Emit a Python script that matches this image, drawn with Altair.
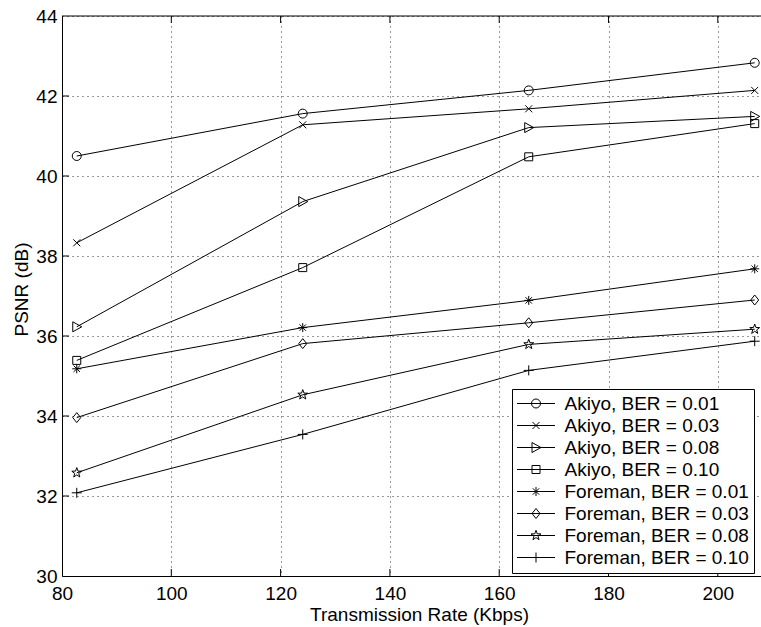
import math
import altair as alt
import pandas as pd

# ---------------- data ----------------
rates = [82.7, 124.05, 165.4, 206.75]
series_names = [
    "Akiyo, BER = 0.01",
    "Akiyo, BER = 0.03",
    "Akiyo, BER = 0.08",
    "Akiyo, BER = 0.10",
    "Foreman, BER = 0.01",
    "Foreman, BER = 0.03",
    "Foreman, BER = 0.08",
    "Foreman, BER = 0.10",
]
akiyo_001 = [40.50, 41.56, 42.14, 42.83]
akiyo_003 = [38.33, 41.28, 41.68, 42.14]
akiyo_008 = [36.23, 39.36, 41.21, 41.49]
akiyo_010 = [35.39, 37.71, 40.48, 41.31]
foreman_001 = [35.18, 36.21, 36.89, 37.68]
foreman_003 = [33.96, 35.81, 36.33, 36.90]
foreman_008 = [32.58, 34.53, 35.79, 36.17]
foreman_010 = [32.08, 33.54, 35.14, 35.87]
series_values = [akiyo_001, akiyo_003, akiyo_008, akiyo_010,
                 foreman_001, foreman_003, foreman_008, foreman_010]
marker_kinds = ["circle", "x", "tri", "square", "asterisk", "diamond", "star", "plus"]

x_ticks = [80, 100, 120, 140, 160, 180, 200]
y_ticks = [30, 32, 34, 36, 38, 40, 42, 44]
X_MIN, X_MAX = 80, 207.9
Y_MIN, Y_MAX = 30, 44

rows = []
for name, vals in zip(series_names, series_values):
    for r, v in zip(rates, vals):
        rows.append({"series": name, "rate": r, "psnr": v})
df = pd.DataFrame(rows)

FONT = "Liberation Sans, Arial, Helvetica, sans-serif"
FS = 19
W, H = 699, 560


# ---------------- marker shapes (pixel geometry -> unit path) ----------------
def marker_path(kind, u, half_line=None):
    def P(x, y):
        return f"{x / u:.4f},{y / u:.4f}"
    parts = []
    if half_line:
        parts.append(f"M{P(-half_line, 0)}L{P(half_line, 0)}")
    if kind == "circle":
        r = 4.5
        ru = f"{r / u:.4f}"
        parts.append(f"M{P(r, 0)}A{ru},{ru} 0 1 1 {P(-r, 0)}A{ru},{ru} 0 1 1 {P(r, 0)}")
    elif kind == "x":
        a = 3.5
        parts.append(f"M{P(-a, -a)}L{P(a, a)}M{P(-a, a)}L{P(a, -a)}")
    elif kind == "tri":
        parts.append(f"M{P(-4, -5)}L{P(5, 0)}L{P(-4, 5)}Z")
    elif kind == "square":
        a = 4
        parts.append(f"M{P(-a, -a)}L{P(a, -a)}L{P(a, a)}L{P(-a, a)}Z")
    elif kind == "asterisk":
        a, b = 4.5, 3.2
        parts.append(f"M{P(0, -a)}L{P(0, a)}M{P(-a, 0)}L{P(a, 0)}"
                     f"M{P(-b, -b)}L{P(b, b)}M{P(-b, b)}L{P(b, -b)}")
    elif kind == "diamond":
        parts.append(f"M{P(0, -5)}L{P(4, 0)}L{P(0, 5)}L{P(-4, 0)}Z")
    elif kind == "star":
        R, r = 5.2, 2.1
        pts = []
        for i in range(10):
            ang = -math.pi / 2 + i * math.pi / 5
            rad = R if i % 2 == 0 else r
            pts.append(P(rad * math.cos(ang), rad * math.sin(ang)))
        parts.append("M" + "L".join(pts) + "Z")
    elif kind == "plus":
        a = 5
        parts.append(f"M{P(0, -a)}L{P(0, a)}M{P(-a, 0)}L{P(a, 0)}")
    return "".join(parts)


U_PT = 5.0           # px per path unit for plotted markers
U_LEG = 8.0          # px per path unit for legend symbols
point_paths = [marker_path(k, U_PT) for k in marker_kinds]
legend_paths = [marker_path(k, U_LEG, half_line=19) for k in marker_kinds]

x_enc_scale = alt.Scale(domain=[X_MIN, X_MAX], nice=False, zero=False)
y_enc_scale = alt.Scale(domain=[Y_MIN, Y_MAX], nice=False, zero=False)

# identical axis definitions are given to every layer so that they merge
x_axis = alt.Axis(
    values=x_ticks, title="Transmission Rate (Kbps)", grid=True, ticks=False,
    tickSize=0, labelPadding=8, labelFlush=False, labelOverlap=False, format="d",
    titleX=357, titleY=44, titleBaseline="alphabetic", titleAlign="center",
)
y_axis = alt.Axis(
    values=y_ticks, title="PSNR (dB)", grid=True, ticks=False, tickSize=0,
    labelPadding=5, labelFlush=False, labelOverlap=False, format="d",
    titleAngle=270, titleX=-35, titleY=273, titleBaseline="alphabetic",
    titleAlign="center",
)


def X(field):
    return alt.X(field, scale=x_enc_scale, axis=x_axis)


def Y(field):
    return alt.Y(field, scale=y_enc_scale, axis=y_axis)


base = alt.Chart(df)

lines = base.mark_line(color="black", strokeWidth=1).encode(
    x=X("rate:Q"), y=Y("psnr:Q"), detail="series:N",
)

points = base.mark_point(filled=False, color="black", strokeWidth=1, size=4 * U_PT ** 2,
                         opacity=1).encode(
    x=X("rate:Q"), y=Y("psnr:Q"),
    shape=alt.Shape("series:N", scale=alt.Scale(domain=series_names, range=point_paths),
                    legend=None),
)

legend_layer = base.transform_calculate(hidden="datum.psnr + 100").mark_point(
    filled=False, color="black", strokeWidth=1, size=4 * U_LEG ** 2, clip=True, opacity=1
).encode(
    x=X("rate:Q"), y=Y("hidden:Q"),
    shape=alt.Shape(
        "series:N",
        scale=alt.Scale(domain=series_names, range=legend_paths),
        legend=alt.Legend(
            title=None, orient="none", legendX=450, legendY=373, direction="vertical",
            symbolSize=4 * U_LEG ** 2, symbolStrokeWidth=1, symbolStrokeColor="black",
            symbolFillColor="transparent", symbolOffset=9.5,
            labelFont=FONT, labelFontSize=FS, labelColor="black", labelOffset=19,
            labelLimit=400, rowPadding=2, padding=5, strokeColor="black",
            fillColor="white",
        ),
    ),
)

# inward ticks (MATLAB box style)
xt = pd.DataFrame({"rate": x_ticks[1:]})
yt = pd.DataFrame({"psnr": y_ticks[1:-1]})
xtick_bottom = alt.Chart(xt).mark_rule(color="black", strokeWidth=1).encode(
    x=X("rate:Q"), y=alt.value(H), y2=alt.value(H - 7),
)
xtick_top = alt.Chart(xt).mark_rule(color="black", strokeWidth=1).encode(
    x=X("rate:Q"), y=alt.value(0), y2=alt.value(7),
)
ytick_left = alt.Chart(yt).mark_rule(color="black", strokeWidth=1).encode(
    y=Y("psnr:Q"), x=alt.value(0), x2=alt.value(7),
)
top_border = alt.Chart(pd.DataFrame({"a": [0]})).mark_rule(color="black", strokeWidth=1).encode(
    x=alt.value(0), x2=alt.value(W), y=alt.value(0),
)

chart = alt.layer(
    lines, points, legend_layer, xtick_bottom, xtick_top, ytick_left, top_border
).resolve_scale(shape="independent").properties(
    width=W, height=H,
    autosize=alt.AutoSizeParams(type="none"),
    padding={"left": 62, "top": 16, "right": 0, "bottom": 51},
    background="white",
).configure_view(stroke=None).configure_axis(
    labelFont=FONT, titleFont=FONT, labelFontSize=FS, titleFontSize=FS,
    titleFontWeight="normal", labelColor="black", titleColor="black",
    domainColor="black", domainWidth=1, gridColor="#000000", gridDash=[1, 4],
    gridWidth=1, gridOpacity=0.8,
)

chart.save("out.html", embed_options={"renderer": "svg", "actions": False})
